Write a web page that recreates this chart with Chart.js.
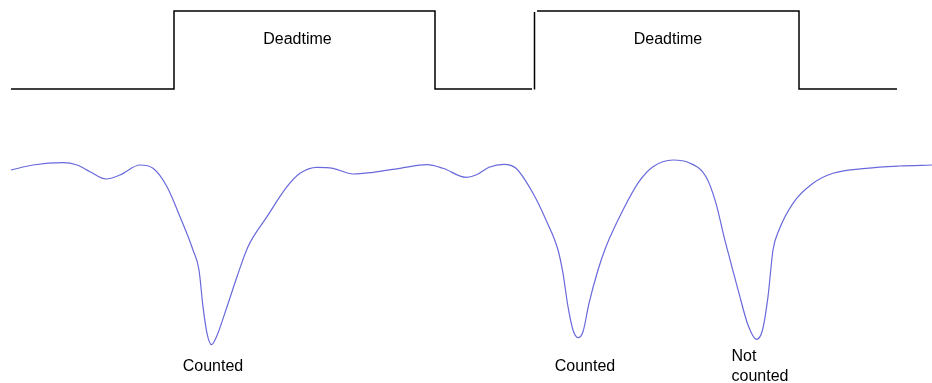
<!DOCTYPE html>
<html>
<head>
<meta charset="utf-8">
<script src="https://cdn.jsdelivr.net/npm/chart.js@4"></script>
<style>
html,body{margin:0;padding:0;background:#fff;}
#wrap{position:relative;width:932px;height:383px;}
</style>
</head>
<body>
<div id="wrap"><canvas id="c" width="932" height="383"></canvas></div>
<script>
// Time axis units (0..932) and level units (0..383, up is higher)
// Deadtime gate signal: segments (null = break)
const gateTime  = [11, 174, 174, 435, 435, 532, null, 534.5, 534.5, null, 537, 799, 799, 897];
const gateLevel = [294, 294, 372, 372, 294, 294, null, 293.5, 371, null, 372, 372, 294, 294];

// Detector signal
const sigTime = [11, 33, 63, 77, 90, 106, 120, 140, 153, 167, 180, 193, 199, 203, 207, 211.5, 216.5, 227, 237, 248, 267, 287, 300, 317, 333, 353, 373, 400, 427, 443, 466, 476, 489, 504, 516, 533, 546, 558, 563, 568, 573, 578, 583, 589, 598, 606, 623, 639, 653, 673, 689, 706, 716, 724, 731, 739, 748, 756.5, 762.5, 768, 773, 779, 793, 813, 833, 866, 899, 932];
const sigLevel = [213, 218, 220.3, 218, 211.3, 204, 208, 218, 214.7, 196.3, 166.3, 133, 113, 76.3, 49.7, 38.3, 46.3, 76.3, 106.3, 136.3, 166.3, 196.3, 209.7, 215.7, 214.7, 209, 210.7, 214.7, 218.3, 214.7, 205.7, 208, 215.7, 218.7, 214.7, 189.7, 163, 133, 109.7, 76.3, 53, 45.3, 51.3, 79.7, 113, 136.3, 173, 201.3, 216.3, 223, 220.3, 206.3, 179.7, 146.3, 119.7, 89.7, 58, 43.7, 53, 86.3, 133, 153, 179.7, 199.7, 209.7, 214.7, 217, 218];

// Text labels
const labelText  = ["Deadtime", "Deadtime", "Counted", "Counted", "Not", "counted"];
const labelTime  = [297.5, 668, 213, 585, 731.5, 731.5];
const labelLevel = [343, 343, 16, 16, 26, 6];
const labelAlign = ["center", "center", "center", "center", "left", "left"];

const pts = (xs, ys) => xs.map((x, i) => (x === null ? {x: null, y: null} : {x: x, y: ys[i]}));

const textPlugin = {
  id: 'texts',
  afterDatasetsDraw(chart) {
    const ctx = chart.ctx, xs = chart.scales.x, ys = chart.scales.y;
    ctx.save();
    ctx.font = '16px "Liberation Sans", Arial, sans-serif';
    ctx.fillStyle = '#000';
    ctx.textBaseline = 'middle';
    labelText.forEach((t, i) => {
      ctx.textAlign = labelAlign[i];
      ctx.fillText(t, xs.getPixelForValue(labelTime[i]), ys.getPixelForValue(labelLevel[i]));
    });
    ctx.restore();
  }
};

new Chart(document.getElementById('c'), {
  type: 'line',
  data: {
    datasets: [
      {
        data: pts(gateTime, gateLevel),
        borderColor: '#000',
        borderWidth: 1.5,
        pointRadius: 0,
        tension: 0,
        spanGaps: false,
        fill: false
      },
      {
        data: pts(sigTime, sigLevel),
        borderColor: 'rgb(105,105,220)',
        borderWidth: 1.2,
        pointRadius: 0,
        cubicInterpolationMode: 'monotone',
        fill: false
      }
    ]
  },
  options: {
    responsive: false,
    animation: false,
    devicePixelRatio: 1,
    clip: false,
    layout: { padding: 0 },
    plugins: { legend: { display: false }, tooltip: { enabled: false }, title: { display: false } },
    scales: {
      x: { type: 'linear', min: 0, max: 932, display: false },
      y: { type: 'linear', min: 0, max: 383, display: false }
    }
  },
  plugins: [textPlugin]
});
</script>
</body>
</html>
